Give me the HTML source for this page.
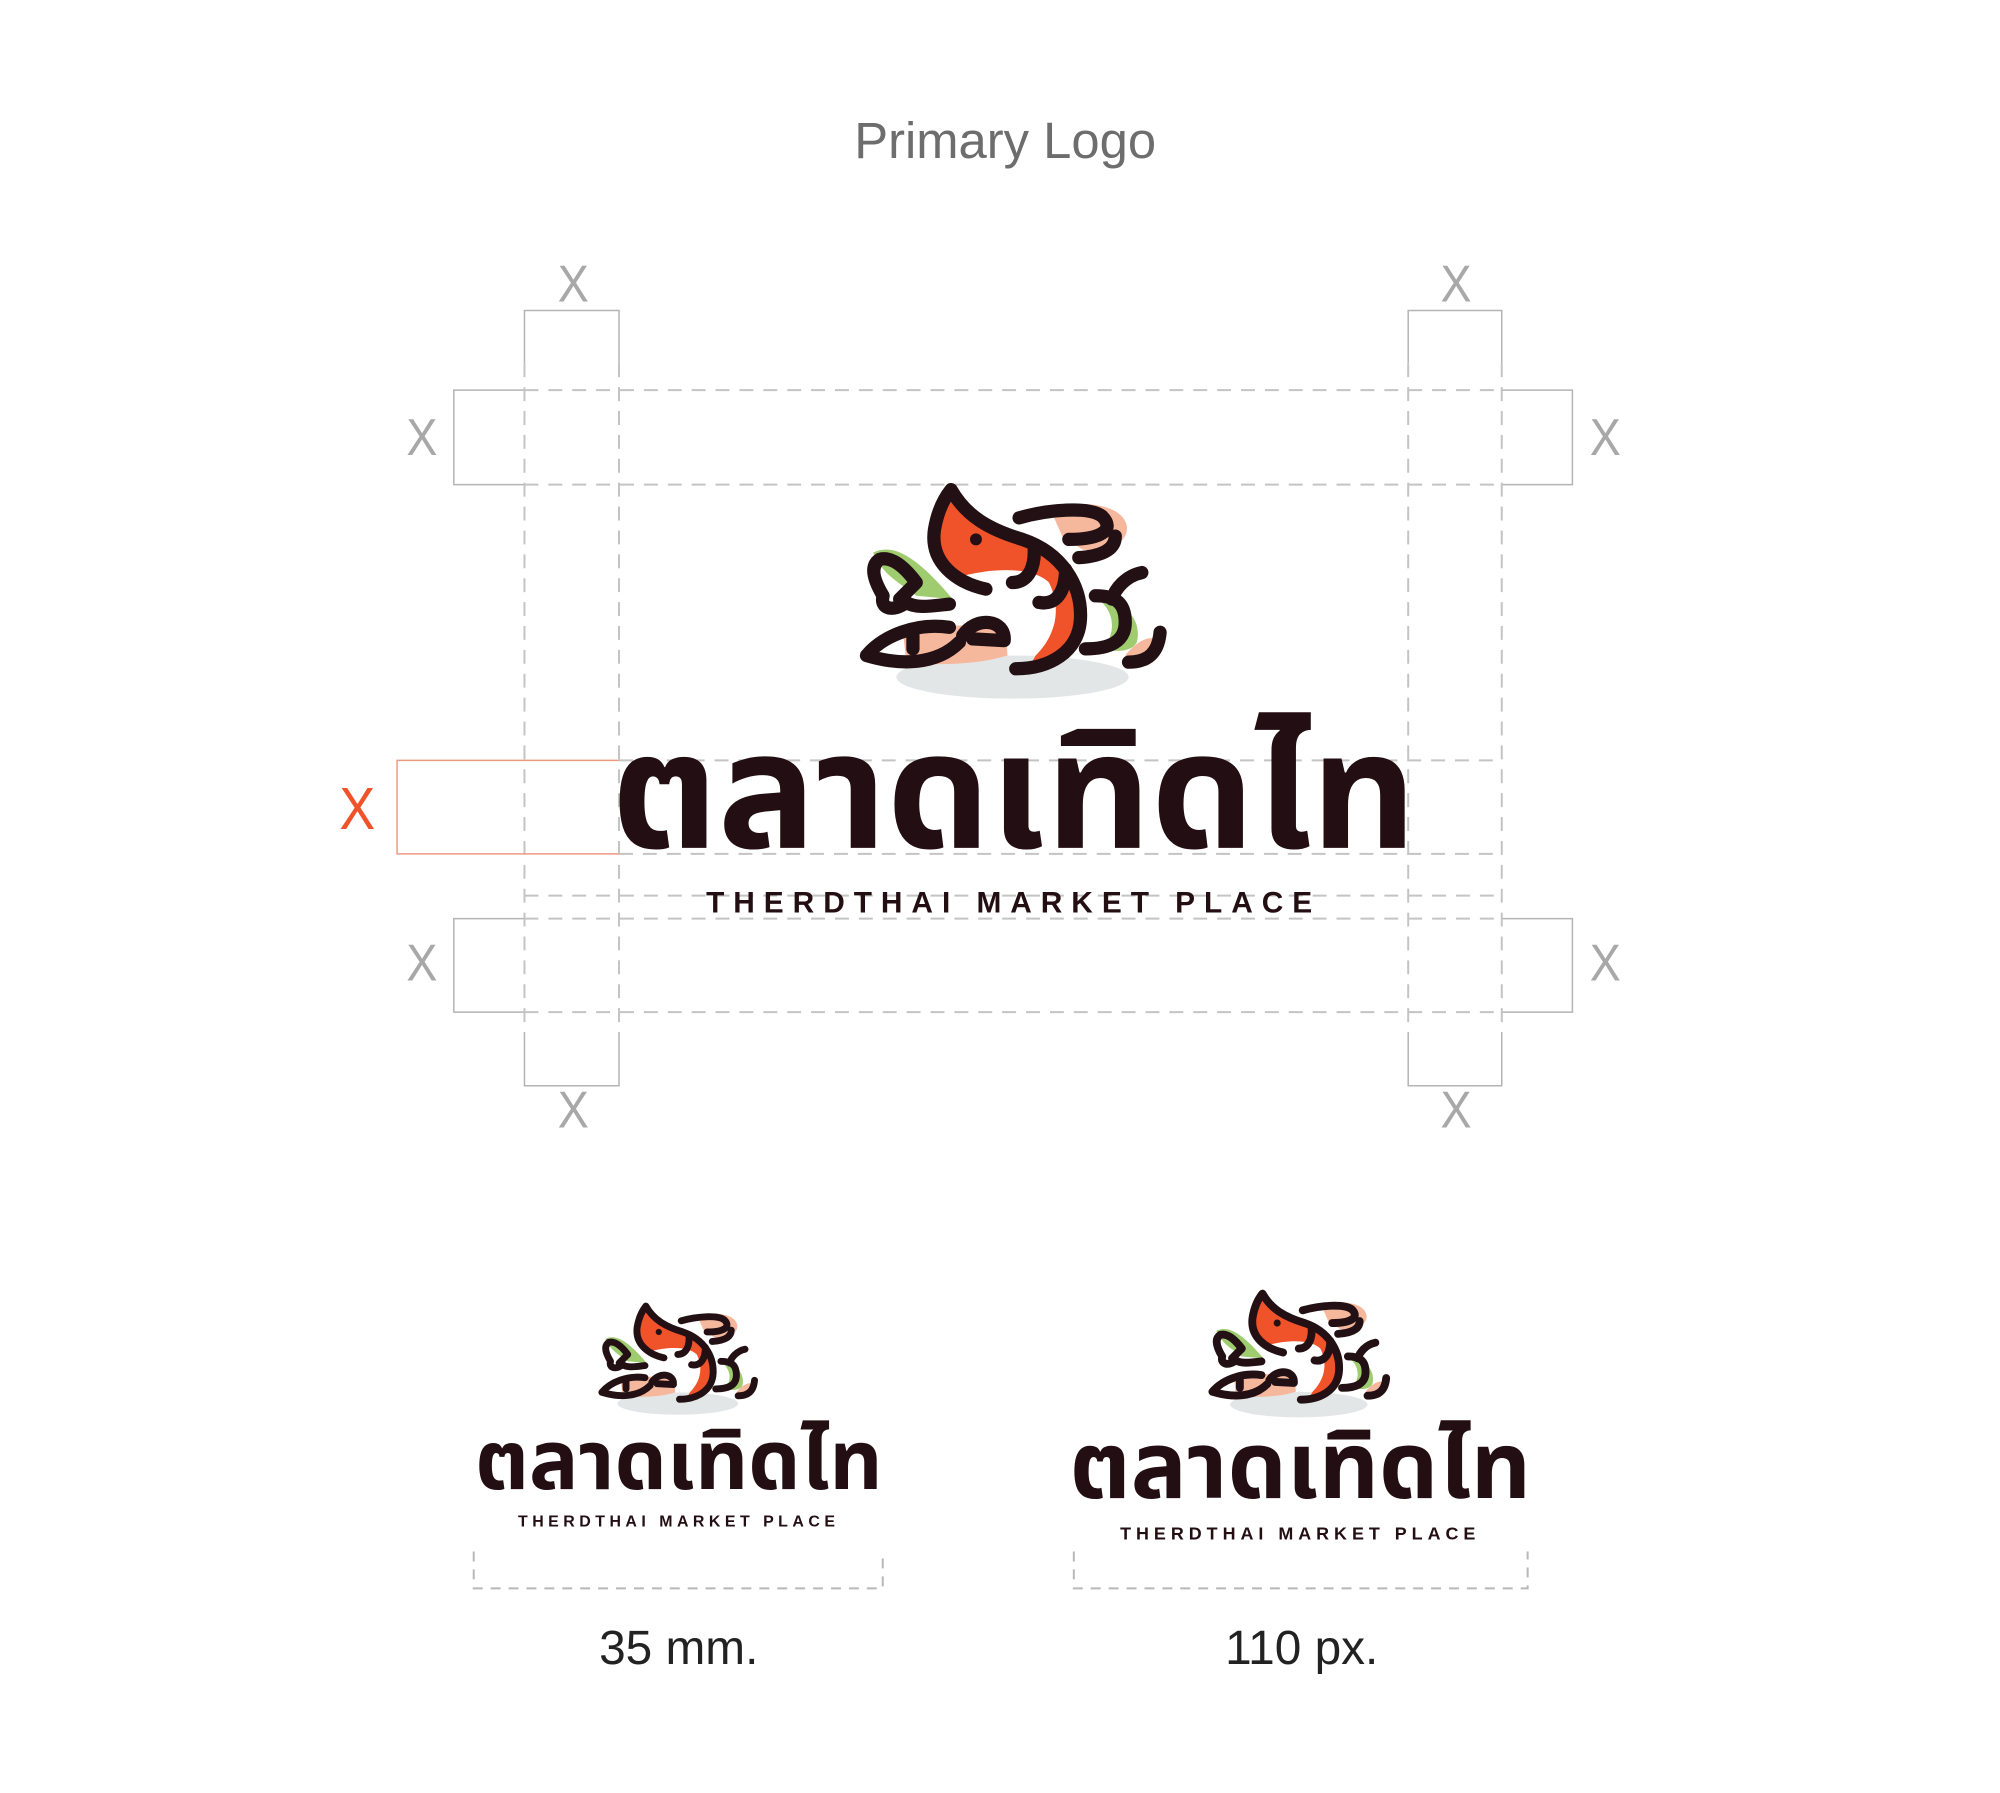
<!DOCTYPE html>
<html><head><meta charset="utf-8"><style>
html,body{margin:0;padding:0;background:#fff}
#c{position:relative;width:2000px;height:1793px;overflow:hidden;background:#fff}
#w{position:absolute;left:0;top:0;width:2000px;height:1793px;transform:scale(0.9952);transform-origin:0 0}
.t{position:absolute;white-space:nowrap;font-family:"Liberation Sans",sans-serif}
.x{position:absolute;font-family:"Liberation Sans",sans-serif;font-weight:300;font-size:52px;color:#a8a8a8;line-height:52px;width:60px;text-align:center;transform:scaleX(0.9)}
.thai{font-family:"Noto Sans Thai","Noto Sans Thai UI","Loma","Garuda","Tlwg Typo","Kinnari","Norasi",sans-serif;font-weight:700;color:#230e13;}
.tag{font-family:"Liberation Sans",sans-serif;font-weight:700;color:#230e13;}
</style></head><body><div id="c"><div id="w">
<div class="t" style="left:10px;width:2000px;text-align:center;top:112px;font-size:51px;color:#6d6d6d;line-height:60px">Primary Logo</div>

<svg style="position:absolute;left:0;top:0" width="2000" height="1793">
<g fill="none" stroke="#b4b4b4" stroke-width="1.5">
 <path d="M527,365 V312 H622 V365"/>
 <path d="M1415,365 V312 H1509 V365"/>
 <path d="M527,1038 V1091 H622 V1038"/>
 <path d="M1415,1038 V1091 H1509 V1038"/>
 <path d="M527,392 H456 V487 H527"/>
 <path d="M527,923 H456 V1017 H527"/>
 <path d="M1509,392 H1580 V487 H1509"/>
 <path d="M1509,923 H1580 V1017 H1509"/>
</g>
<g fill="none" stroke="#c4c4c4" stroke-width="2" stroke-dasharray="14,10">
 <path d="M527,365 V1038 M622,365 V1038 M1415,365 V1038 M1509,365 V1038"/>
 <path d="M527,392 H1509 M527,487 H1509 M527,923 H1509 M527,1017 H1509"/>
 <path d="M622,764 H1509 M622,858 H1509 M527,900 H1509"/>
</g>
<path d="M622,764 H399 V858 H622" fill="none" stroke="#ee9a80" stroke-width="1.5"/>
<g fill="none" stroke="#b8b8b8" stroke-width="2" stroke-dasharray="10,8">
 <path d="M476,1559 V1596 H887 V1559"/>
 <path d="M1079,1559 V1596 H1535 V1559"/>
</g>
</svg>

<div class="x" style="left:546px;top:260px">X</div>
<div class="x" style="left:1433px;top:260px">X</div>
<div class="x" style="left:394px;top:414px">X</div>
<div class="x" style="left:1583px;top:414px">X</div>
<div class="x" style="left:329px;top:783px;color:#f0522a;font-size:60px;line-height:60px">X</div>
<div class="x" style="left:394px;top:942px">X</div>
<div class="x" style="left:1583px;top:942px">X</div>
<div class="x" style="left:546px;top:1090px">X</div>
<div class="x" style="left:1433px;top:1090px">X</div>

<svg width="0" height="0" style="position:absolute">
<defs>
<symbol id="logo" viewBox="0 0 1020 750">
 <ellipse cx="490" cy="625" rx="350" ry="65" fill="#e3e6e6"/>
 <path d="M600,110 C700,95 820,100 835,170 C840,230 760,250 700,240 L640,200 Z" fill="#f6b89c"/>
 <path d="M160,490 C250,470 380,460 470,480 L475,560 C380,590 250,590 170,580 Z" fill="#f6b89c"/>
 <path d="M830,560 C860,520 900,500 920,510 L900,590 C870,590 840,580 830,560Z" fill="#f6b89c"/>
 <path d="M70,250 C130,220 200,260 310,390 L200,380 C150,340 100,320 70,250Z" fill="#9fcc6f"/>
 <path d="M760,400 C840,400 880,460 865,520 C850,550 800,550 760,540 C800,500 800,440 760,400Z" fill="#9fcc6f"/>
 <path d="M300,60 C380,150 500,190 560,220 C650,270 715,380 705,470 C695,560 620,600 540,595 L560,560 C620,500 640,420 600,340 C560,300 460,290 340,320 C270,300 240,220 300,60 Z" fill="#f0522a"/>
 <g fill="none" stroke="#231014" stroke-width="40" stroke-linecap="round" stroke-linejoin="round">
  <path d="M410,360 C320,340 240,280 255,180 C265,120 285,85 305,60 C350,140 420,180 520,210 C640,250 700,350 695,450 C690,550 600,600 500,600"/>
  <path d="M490,340 C540,340 560,290 555,230"/>
  <path d="M570,400 C620,410 650,370 650,300"/>
  <path d="M510,145 C600,120 720,110 760,140 C800,180 760,210 660,210"/>
  <path d="M690,265 C760,260 800,240 800,200"/>
  <path d="M300,405 C250,410 200,420 170,400 C130,430 90,420 100,380 C70,330 60,290 90,270 C130,260 170,300 200,340 L150,390"/>
  <path d="M300,475 C200,460 100,500 50,560 C150,590 260,590 330,520"/>
  <path d="M190,500 L190,540"/>
  <path d="M340,500 C380,440 470,450 465,515 L370,510"/>
  <path d="M880,310 C830,320 800,360 790,390"/>
  <path d="M740,380 C800,380 830,400 830,460 C830,520 780,540 710,540"/>
  <path d="M935,490 C930,550 900,580 840,580"/>
 </g>
 <circle cx="380" cy="210" r="18" fill="#231014"/>
</symbol>
</defs></svg>

<svg style="position:absolute;left:854px;top:472px" width="340" height="250"><use href="#logo"/></svg>
<svg style="position:absolute;left:596px;top:1302px" width="177" height="130"><use href="#logo"/></svg>
<svg style="position:absolute;left:1208px;top:1288px" width="202" height="148"><use href="#logo"/></svg>

<div class="t thai" style="left:609px;width:819px;text-align:center;top:700px;font-size:164px;line-height:205px">ตลาดเทิดไท</div>
<div class="t tag" style="left:619px;width:799px;text-align:center;top:889px;font-size:30px;line-height:38px;letter-spacing:9px">THERDTHAI MARKET PLACE</div>

<div class="t thai" style="left:474px;width:416px;text-align:center;top:1420px;font-size:83px;line-height:104px">ตลาดเทิดไท</div>
<div class="t tag" style="left:474px;width:416px;text-align:center;top:1520px;font-size:16px;line-height:20px;letter-spacing:4.5px">THERDTHAI MARKET PLACE</div>

<div class="t thai" style="left:1072px;width:469px;text-align:center;top:1418px;font-size:94px;line-height:118px">ตลาดเทิดไท</div>
<div class="t tag" style="left:1077px;width:459px;text-align:center;top:1530px;font-size:18px;line-height:22px;letter-spacing:5px">THERDTHAI MARKET PLACE</div>

<div class="t" style="left:482px;width:400px;text-align:center;top:1627px;font-size:48px;line-height:60px;color:#222">35 mm.</div>
<div class="t" style="left:1108px;width:400px;text-align:center;top:1627px;font-size:48px;line-height:60px;color:#222">110 px.</div>
</div></div></body></html>
